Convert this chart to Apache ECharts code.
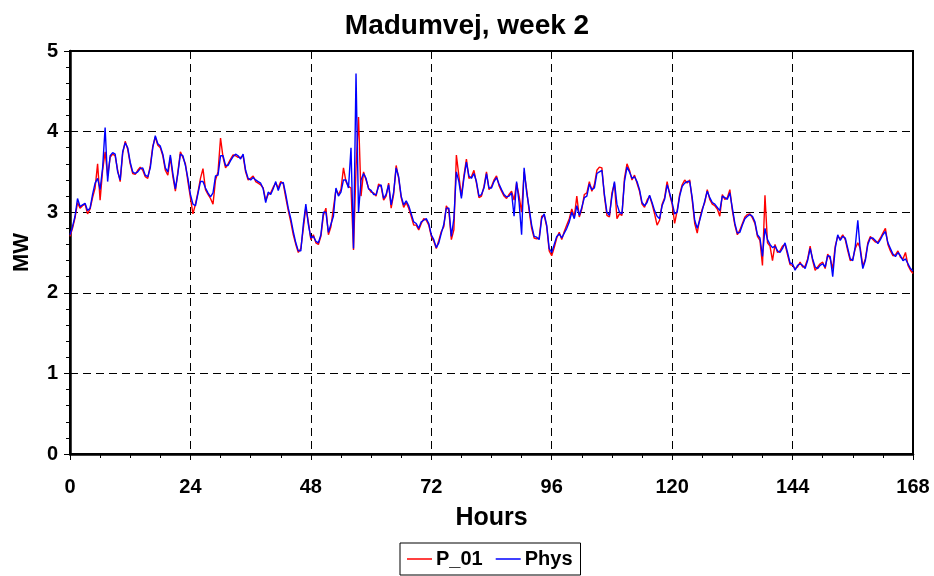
<!DOCTYPE html>
<html>
<head>
<meta charset="utf-8">
<title>Madumvej, week 2</title>
<script src="https://cdn.jsdelivr.net/npm/echarts@6.0.0/dist/echarts.min.js"></script>
<style>
  html, body { margin: 0; padding: 0; background: #fff; }
  #chart { width: 934px; height: 576px; }
</style>
</head>
<body>
<div id="chart"></div>
<script>
// half-hour samples (hour 0 .. 168)
const STEP = 0.5
const seriesNames = ['P_01', 'Phys']

const p01 = [
  2.70, 2.80, 2.93, 3.12, 3.05, 3.08, 3.10, 2.98, 3.04, 3.18, 3.30, 3.60,
  3.15, 3.52, 3.75, 3.45, 3.68, 3.72, 3.70, 3.52, 3.38, 3.73, 3.88, 3.78,
  3.60, 3.48, 3.47, 3.52, 3.56, 3.52, 3.44, 3.42, 3.58, 3.82, 3.93, 3.83,
  3.80, 3.70, 3.52, 3.46, 3.68, 3.44, 3.26, 3.50, 3.75, 3.68, 3.60, 3.38,
  3.18, 2.98, 3.10, 3.25, 3.42, 3.54, 3.28, 3.22, 3.17, 3.10, 3.40, 3.50,
  3.92, 3.68, 3.55, 3.60, 3.66, 3.71, 3.70, 3.68, 3.68, 3.70, 3.50, 3.40,
  3.42, 3.45, 3.38, 3.36, 3.34, 3.30, 3.15, 3.22, 3.24, 3.31, 3.36, 3.30,
  3.38, 3.35, 3.18, 3.02, 2.88, 2.72, 2.60, 2.50, 2.55, 2.80, 3.06, 2.88,
  2.66, 2.72, 2.62, 2.60, 2.70, 2.96, 3.05, 2.72, 2.82, 3.05, 3.28, 3.22,
  3.28, 3.55, 3.38, 3.32, 3.30, 2.53, 3.55, 4.18, 3.20, 3.50, 3.40, 3.30,
  3.25, 3.24, 3.20, 3.35, 3.32, 3.15, 3.20, 3.36, 3.05, 3.22, 3.58, 3.42,
  3.18, 3.06, 3.12, 3.05, 2.95, 2.84, 2.84, 2.78, 2.86, 2.92, 2.90, 2.84,
  2.70, 2.64, 2.55, 2.65, 2.76, 2.82, 3.08, 3.02, 2.66, 2.78, 3.71, 3.45,
  3.20, 3.45, 3.66, 3.42, 3.44, 3.52, 3.36, 3.18, 3.20, 3.32, 3.50, 3.28,
  3.32, 3.40, 3.45, 3.33, 3.26, 3.20, 3.17, 3.22, 3.26, 3.15, 3.36, 3.20,
  3.00, 3.50, 3.28, 3.02, 2.80, 2.68, 2.67, 2.68, 2.95, 2.96, 2.82, 2.52,
  2.46, 2.56, 2.68, 2.75, 2.66, 2.76, 2.84, 2.92, 3.04, 2.94, 3.20, 2.94,
  3.04, 3.22, 3.24, 3.38, 3.26, 3.34, 3.52, 3.56, 3.55, 3.20, 2.96, 2.94,
  3.24, 3.36, 2.92, 2.98, 2.96, 3.42, 3.60, 3.52, 3.40, 3.46, 3.36, 3.26,
  3.10, 3.06, 3.15, 3.20, 3.10, 2.98, 2.84, 2.90, 3.10, 3.18, 3.38, 3.22,
  3.10, 2.86, 3.02, 3.22, 3.34, 3.40, 3.36, 3.40, 3.15, 2.86, 2.74, 2.92,
  3.04, 3.12, 3.28, 3.16, 3.10, 3.08, 3.04, 2.95, 3.22, 3.16, 3.18, 3.28,
  3.02, 2.84, 2.72, 2.78, 2.86, 2.94, 2.97, 2.98, 2.93, 2.86, 2.70, 2.65,
  2.34, 3.21, 2.62, 2.58, 2.40, 2.60, 2.50, 2.52, 2.58, 2.60, 2.47, 2.35,
  2.34, 2.30, 2.32, 2.38, 2.32, 2.33, 2.42, 2.58, 2.40, 2.28, 2.32, 2.36,
  2.38, 2.30, 2.48, 2.42, 2.30, 2.58, 2.70, 2.67, 2.72, 2.66, 2.52, 2.40,
  2.42, 2.55, 2.62, 2.55, 2.33, 2.42, 2.62, 2.70, 2.66, 2.63, 2.63, 2.68,
  2.74, 2.80, 2.60, 2.52, 2.46, 2.47, 2.52, 2.44, 2.42, 2.50, 2.34, 2.28,
  2.24,
]

const phys = [
  2.72, 2.82, 2.95, 3.17, 3.07, 3.09, 3.11, 3.02, 3.05, 3.22, 3.36, 3.42,
  3.28, 3.55, 4.05, 3.38, 3.70, 3.74, 3.72, 3.50, 3.40, 3.75, 3.86, 3.80,
  3.62, 3.50, 3.48, 3.50, 3.54, 3.55, 3.46, 3.44, 3.55, 3.80, 3.95, 3.85,
  3.82, 3.72, 3.55, 3.50, 3.71, 3.48, 3.29, 3.48, 3.72, 3.70, 3.58, 3.42,
  3.22, 3.10, 3.08, 3.23, 3.38, 3.38, 3.30, 3.24, 3.19, 3.24, 3.45, 3.46,
  3.70, 3.70, 3.58, 3.58, 3.64, 3.69, 3.72, 3.70, 3.66, 3.72, 3.52, 3.42,
  3.40, 3.43, 3.40, 3.38, 3.36, 3.29, 3.12, 3.25, 3.22, 3.29, 3.38, 3.27,
  3.36, 3.37, 3.22, 3.05, 2.92, 2.76, 2.62, 2.52, 2.52, 2.85, 3.10, 2.85,
  2.68, 2.70, 2.64, 2.62, 2.72, 3.00, 3.00, 2.75, 2.85, 2.95, 3.30, 3.20,
  3.25, 3.40, 3.40, 3.30, 3.80, 2.55, 4.72, 3.00, 3.40, 3.48, 3.42, 3.29,
  3.27, 3.22, 3.22, 3.32, 3.34, 3.17, 3.22, 3.34, 3.09, 3.25, 3.55, 3.44,
  3.20, 3.09, 3.14, 3.08, 2.98, 2.88, 2.86, 2.80, 2.88, 2.90, 2.92, 2.86,
  2.72, 2.66, 2.56, 2.62, 2.74, 2.85, 3.05, 3.05, 2.70, 2.92, 3.50, 3.38,
  3.17, 3.42, 3.62, 3.45, 3.42, 3.48, 3.38, 3.20, 3.22, 3.30, 3.48, 3.30,
  3.30, 3.38, 3.43, 3.35, 3.28, 3.22, 3.19, 3.20, 3.24, 2.95, 3.38, 3.12,
  2.72, 3.55, 3.25, 3.05, 2.84, 2.70, 2.69, 2.66, 2.92, 2.98, 2.84, 2.55,
  2.50, 2.60, 2.70, 2.73, 2.68, 2.74, 2.80, 2.88, 3.00, 2.92, 3.08, 2.96,
  3.06, 3.18, 3.20, 3.35, 3.28, 3.30, 3.48, 3.50, 3.52, 3.22, 3.00, 2.96,
  3.20, 3.38, 3.10, 3.00, 2.98, 3.38, 3.56, 3.50, 3.42, 3.44, 3.38, 3.28,
  3.12, 3.08, 3.12, 3.21, 3.12, 3.02, 2.95, 2.92, 3.08, 3.16, 3.34, 3.24,
  3.12, 2.98, 3.00, 3.20, 3.32, 3.36, 3.38, 3.38, 3.18, 2.90, 2.80, 2.90,
  3.02, 3.14, 3.26, 3.18, 3.12, 3.10, 3.06, 3.02, 3.20, 3.18, 3.16, 3.24,
  3.05, 2.86, 2.74, 2.75, 2.84, 2.92, 2.95, 2.97, 2.95, 2.88, 2.72, 2.68,
  2.45, 2.80, 2.66, 2.60, 2.56, 2.58, 2.52, 2.50, 2.55, 2.62, 2.50, 2.37,
  2.36, 2.28, 2.34, 2.36, 2.34, 2.30, 2.40, 2.55, 2.42, 2.32, 2.30, 2.34,
  2.36, 2.32, 2.46, 2.45, 2.20, 2.55, 2.72, 2.65, 2.70, 2.68, 2.55, 2.42,
  2.40, 2.58, 2.90, 2.52, 2.30, 2.40, 2.60, 2.68, 2.68, 2.65, 2.61, 2.66,
  2.72, 2.76, 2.62, 2.55, 2.48, 2.45, 2.50, 2.46, 2.40, 2.42, 2.36, 2.30,
  2.27,
]

const FONT = 'Liberation Sans, Arial, sans-serif'

function pairs(values) {
  return values.map((v, i) => [i * STEP, v])
}

const chart = echarts.init(document.getElementById('chart'))

const option = {
  animation: false,
  backgroundColor: '#fff',
  title: {
    text: 'Madumvej, week 2',
    left: 'center',
    top: 7,
    textStyle: { fontFamily: FONT, fontSize: 28, fontWeight: 'bold', color: '#000' },
  },
  legend: {
    data: seriesNames,
    left: 400,
    top: 543,
    padding: [6, 8, 6, 7],
    itemGap: 13,
    itemWidth: 25,
    itemHeight: 1.5,
    icon: 'rect',
    borderColor: '#000',
    borderWidth: 1,
    selectedMode: false,
    textStyle: { fontFamily: FONT, fontSize: 20, fontWeight: 'bold', color: '#000', padding: [0, 0, 0, -1] },
  },
  grid: {
    left: 70,
    right: 21,
    top: 51,
    bottom: 122,
    show: true,
    borderColor: '#000',
    borderWidth: 2,
    backgroundColor: '#fff',
  },
  xAxis: {
    type: 'value',
    min: 0,
    max: 168,
    interval: 24,
    name: 'Hours',
    nameLocation: 'middle',
    nameGap: 52,
    nameTextStyle: { fontFamily: FONT, fontSize: 25, fontWeight: 'bold', color: '#000' },
    axisLine: { show: true, onZero: false, lineStyle: { color: '#000', width: 2.5 } },
    axisTick: { show: true, length: 6, lineStyle: { color: '#000', width: 1 } },
    minorTick: { show: true, splitNumber: 4, length: 4, lineStyle: { color: '#000', width: 1 } },
    axisLabel: { margin: 23, fontFamily: FONT, fontSize: 20, fontWeight: 'bold', color: '#000' },
    splitLine: { show: true, lineStyle: { color: '#000', width: 1, type: [8, 5] } },
  },
  yAxis: {
    type: 'value',
    min: 0,
    max: 5,
    interval: 1,
    name: 'MW',
    nameLocation: 'middle',
    nameGap: 37,
    nameTextStyle: { fontFamily: FONT, fontSize: 22, fontWeight: 'bold', color: '#000' },
    axisLine: { show: true, lineStyle: { color: '#000', width: 2.5 } },
    axisTick: { show: true, length: 6, lineStyle: { color: '#000', width: 1 } },
    minorTick: { show: true, splitNumber: 5, length: 4, lineStyle: { color: '#000', width: 1 } },
    axisLabel: { margin: 12, fontFamily: FONT, fontSize: 20, fontWeight: 'bold', color: '#000' },
    splitLine: { show: true, lineStyle: { color: '#000', width: 1, type: [8, 5] } },
  },
  series: [
    {
      name: seriesNames[0],
      type: 'line',
      data: pairs(p01),
      showSymbol: false,
      color: '#ff0000',
      lineStyle: { color: '#ff0000', width: 1.4 },
      z: 2,
    },
    {
      name: seriesNames[1],
      type: 'line',
      data: pairs(phys),
      showSymbol: false,
      color: '#0000ff',
      lineStyle: { color: '#0000ff', width: 1.4 },
      z: 3,
    },
  ],
}

chart.setOption(option)
</script>
</body>
</html>
